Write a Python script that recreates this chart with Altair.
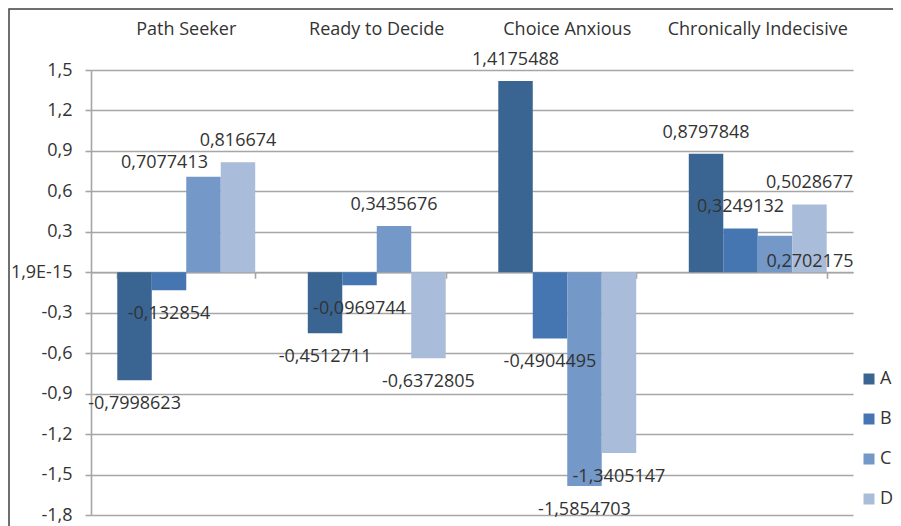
import altair as alt
import pandas as pd

categories = ["Path Seeker", "Ready to Decide", "Choice Anxious", "Chronically Indecisive"]
series = ["A", "B", "C", "D"]
values_A = [-0.7998623, -0.4512711, 1.4175488, 0.8797848]
values_B = [-0.132854, -0.0969744, -0.4904495, 0.3249132]
values_C = [0.7077413, 0.3435676, -1.5854703, 0.2702175]
values_D = [0.816674, -0.6372805, -1.3405147, 0.5028677]
colors = ["#3A6592", "#4676B1", "#7498C7", "#A9BCD9"]
y_ticks = [-1.8, -1.5, -1.2, -0.9, -0.6, -0.3, 0, 0.3, 0.6, 0.9, 1.2, 1.5]

rows = []
for s, vals in zip(series, [values_A, values_B, values_C, values_D]):
    for c, v in zip(categories, vals):
        rows.append({"category": c, "series": s, "value": v,
                     "label": str(v).replace(".", ",")})
df = pd.DataFrame(rows)

FONT = "Open Sans"
TXT = "#333333"
GRID = "#A6A6A6"
W, H = 762, 445
y_min, y_max = -1.8, 1.5
zero_offset = -(H - H * y_max / (y_max - y_min))

y_scale = alt.Scale(domain=[y_min, y_max], nice=False, zero=False)
x_scale = alt.Scale(domain=categories, paddingInner=0.276, paddingOuter=0.138)
xoff_scale = alt.Scale(domain=series, paddingInner=0, paddingOuter=0)

label_expr = ("abs(datum.value) < 1e-9 ? '1,9E-15' : "
              "(datum.value < 0 ? '-' : '') + replace(format(abs(datum.value), '.1f'), '.', ',')")

y_axis = alt.Axis(values=y_ticks, title=None, labelExpr=label_expr,
                  grid=True, gridColor=GRID, gridWidth=1.6,
                  domain=True, domainColor=GRID, domainWidth=1.6,
                  ticks=True, tickColor=GRID, tickWidth=1.6, tickSize=6,
                  labelPadding=13, labelFont=FONT, labelFontSize=18,
                  labelColor=TXT)

base = alt.Chart(df)

bars = base.mark_bar().encode(
    x=alt.X("category:N", scale=x_scale, sort=categories,
            axis=alt.Axis(orient="top", title=None, labelAngle=0, domain=False,
                          ticks=False, grid=False, labelPadding=32, labelLimit=0,
                          labelFontSize=18, labelFont=FONT, labelColor=TXT)),
    xOffset=alt.XOffset("series:N", scale=xoff_scale, sort=series),
    y=alt.Y("value:Q", scale=y_scale, axis=y_axis),
    color=alt.Color("series:N", scale=alt.Scale(domain=series, range=colors),
                    legend=alt.Legend(title=None, orient="none", legendX=769,
                                      legendY=300, padding=0, symbolType="square",
                                      symbolSize=121, symbolStrokeWidth=0,
                                      labelFont=FONT, labelFontSize=18,
                                      labelColor=TXT, labelOffset=2,
                                      rowPadding=22)),
)

bottom_axis = alt.Axis(orient="bottom", offset=zero_offset, title=None,
                       labels=False, grid=False, domain=True, domainColor=GRID,
                       domainWidth=1.6, ticks=True, tickColor=GRID,
                       tickWidth=1.6, tickSize=6, tickBand="extent")

# label placement tweaks for crowded labels (as in the original chart)
crowded_left = "datum.category == 'Path Seeker' && datum.series == 'C'"
crowded_low = "datum.category == 'Chronically Indecisive' && datum.series == 'C'"


def text_layer(filter_expr, dx, dy, x_axis=None):
    return base.transform_filter(filter_expr).mark_text(
        font=FONT, fontSize=18, color=TXT, baseline="middle", dx=dx, dy=dy
    ).encode(
        x=alt.X("category:N", scale=x_scale, sort=categories, axis=x_axis),
        xOffset=alt.XOffset("series:N", scale=xoff_scale, sort=series),
        y=alt.Y("value:Q", scale=y_scale, axis=y_axis),
        text="label:N",
    )


pos_text = text_layer(f"datum.value >= 0 && !({crowded_left}) && !({crowded_low})",
                      0, -21, bottom_axis)
neg_text = text_layer("datum.value < 0", 0, 24)
left_text = text_layer(crowded_left, -39, -14)
low_text = text_layer(crowded_low, 35, 26)

frame = alt.Chart(pd.DataFrame({"k": [0]})).mark_rect(
    fillOpacity=0, stroke="#404040", strokeWidth=1.5
).encode(
    x=alt.value(-82), x2=alt.value(W + 300),
    y=alt.value(-61), y2=alt.value(H + 300),
)

chart = alt.layer(bars, pos_text, neg_text, left_text, low_text, frame).resolve_axis(
    x="independent"
).properties(
    width=W, height=H,
    autosize=alt.AutoSizeParams(type="none"),
    padding={"left": 83, "top": 62, "right": 40, "bottom": 12},
).configure_view(strokeWidth=0)

chart.save("out.html", embed_options={"renderer": "svg", "actions": False})
